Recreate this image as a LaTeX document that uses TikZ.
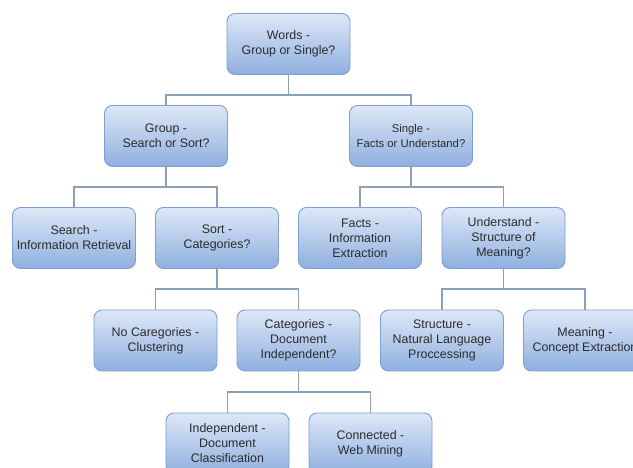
\documentclass[tikz,border=0pt]{standalone}
\usepackage{fontspec}
\setmainfont{Liberation Sans}
\begin{document}
\begin{tikzpicture}[x=1pt,y=-1pt,
  box/.style={draw=boxedge, line width=0.9pt, rounded corners=8pt,
    top color=boxtop, bottom color=boxbot, minimum width=123pt, minimum height=61pt,
    align=center, text=txt, font=\fontsize{12.4}{15}\selectfont, inner sep=2pt},
  link/.style={draw=linkc, line width=1.2pt}]
\definecolor{boxedge}{HTML}{7E9FD0}
\definecolor{boxtop}{HTML}{DDE8F7}
\definecolor{boxbot}{HTML}{8FAFDF}
\definecolor{txt}{HTML}{2B2B2B}
\definecolor{linkc}{HTML}{8A9FBA}
\path[use as bounding box, clip] (0,0) rectangle (633,468);
\fill[white] (0,0) rectangle (633,468);
% nodes
\node[box] (root) at (288.5,44) {Words -\\Group or Single?};
\node[box, font=\fontsize{11.3}{14.5}\selectfont] (single) at (411,136) {Single -\\Facts or Understand?};
\node[box] (group) at (166,136) {Group -\\Search or Sort?};
\node[box] (search) at (74,238) {Search -\\Information Retrieval};
\node[box] (sort) at (217,238) {Sort -\\Categories?};
\node[box] (facts) at (360,238) {Facts -\\Information\\Extraction};
\node[box] (underst) at (503.5,238) {Understand -\\Structure of\\Meaning?};
\node[box] (nocat) at (155.5,340.5) {No Caregories -\\Clustering};
\node[box] (cat) at (298.5,340.5) {Categories -\\Document\\Independent?};
\node[box] (struct) at (442,340.5) {Structure -\\Natural Language\\Proccessing};
\node[box] (meaning) at (585,340.5) {Meaning -\\Concept Extraction};
\node[box] (indep) at (227.5,443.5) {Independent -\\Document\\Classification};
\node[box] (conn) at (370.5,443.5) {Connected -\\Web Mining};
% junctions
\coordinate (j1) at (288.5,95);
\coordinate (j2) at (166,187);
\coordinate (j3) at (411,187);
\coordinate (j4) at (217,289);
\coordinate (j5) at (503.5,289);
\coordinate (j6) at (298.5,392);
% connectors
\draw[link] (root.south) -- (j1) -| (group.north);
\draw[link] (j1) -| (single.north);
\draw[link] (group.south) -- (j2) -| (search.north);
\draw[link] (j2) -| (sort.north);
\draw[link] (single.south) -- (j3) -| (facts.north);
\draw[link] (j3) -| (underst.north);
\draw[link] (sort.south) -- (j4) -| (nocat.north);
\draw[link] (j4) -| (cat.north);
\draw[link] (underst.south) -- (j5) -| (struct.north);
\draw[link] (j5) -| (meaning.north);
\draw[link] (cat.south) -- (j6) -| (indep.north);
\draw[link] (j6) -| (conn.north);
\end{tikzpicture}
\end{document}
